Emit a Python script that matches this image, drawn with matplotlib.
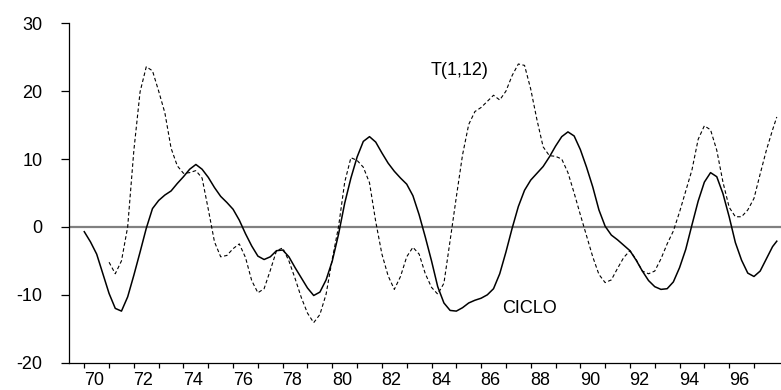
import numpy as np
import matplotlib
matplotlib.use("Agg")
import matplotlib.pyplot as plt

plt.rcParams['font.family'] = ['Liberation Sans', 'DejaVu Sans']
plt.rcParams['lines.scale_dashes'] = False

# quarterly observations 1970Q1 .. 1997Q4, plus the last (Dec-1997) point
years = list(np.arange(70.0, 98.0, 0.25)) + [97.92]

ciclo = [
    -0.7, -2.2, -4.0, -6.9,      # 70
    -9.8, -12.0, -12.4, -10.3,   # 71
    -7.1, -3.7, -0.2, 2.7,       # 72
    3.9, 4.7, 5.3, 6.4,          # 73
    7.4, 8.5, 9.2, 8.5,          # 74
    7.3, 5.8, 4.5, 3.6,          # 75
    2.6, 1.0, -1.0, -2.8,        # 76
    -4.3, -4.8, -4.4, -3.5,      # 77
    -3.4, -4.4, -6.0, -7.5,      # 78
    -9.0, -10.1, -9.6, -7.8,     # 79
    -5.0, -1.1, 3.5, 7.2,        # 80
    10.3, 12.6, 13.3, 12.5,      # 81
    10.9, 9.4, 8.2, 7.2,         # 82
    6.3, 4.6, 1.8, -1.5,         # 83
    -5.0, -8.8, -11.2, -12.3,    # 84
    -12.4, -11.9, -11.2, -10.8,  # 85
    -10.5, -10.0, -9.1, -6.9,    # 86
    -3.7, -0.2, 3.0, 5.4,        # 87
    6.9, 7.9, 8.9, 10.3,         # 88
    11.9, 13.3, 14.0, 13.4,      # 89
    11.4, 8.8, 5.9, 2.5,         # 90
    0.1, -1.2, -1.9, -2.7,       # 91
    -3.5, -4.9, -6.5, -7.9,      # 92
    -8.8, -9.2, -9.1, -8.1,      # 93
    -6.0, -3.3, 0.3, 3.8,        # 94
    6.6, 8.0, 7.4, 4.9,          # 95
    1.5, -2.3, -4.9, -6.8,       # 96
    -7.3, -6.5, -4.7, -2.9,      # 97
    -2.1,
]

t112 = [
    np.nan, np.nan, np.nan, np.nan,  # 70
    -5.2, -6.9, -5.0, 0.0,       # 71
    11.3, 19.9, 23.6, 23.0,      # 72
    20.0, 16.8, 11.6, 9.0,       # 73
    7.9, 8.0, 8.3, 7.2,          # 74
    2.6, -2.2, -4.4, -4.2,       # 75
    -3.2, -2.5, -4.5, -7.9,      # 76
    -9.7, -9.1, -6.4, -3.5,      # 77
    -3.1, -5.0, -7.6, -10.4,     # 78
    -12.7, -14.1, -12.9, -9.9,   # 79
    -4.7, 0.0, 6.6, 10.2,        # 80
    9.8, 8.8, 6.5, 0.8,          # 81
    -4.0, -7.2, -9.2, -7.3,      # 82
    -4.4, -3.0, -4.0, -6.9,      # 83
    -8.9, -9.9, -8.3, -2.0,      # 84
    4.4, 10.6, 15.1, 17.0,       # 85
    17.6, 18.5, 19.4, 18.7,      # 86
    20.0, 22.3, 24.0, 23.8,      # 87
    20.3, 15.8, 11.8, 10.5,      # 88
    10.4, 10.0, 8.0, 5.0,        # 89
    1.8, -1.3, -4.4, -7.0,       # 90
    -8.2, -7.8, -6.1, -4.5,      # 91
    -3.5, -4.8, -6.5, -6.9,      # 92
    -6.5, -4.7, -2.5, -0.6,      # 93
    2.2, 5.3, 8.4, 12.9,         # 94
    14.9, 14.3, 11.3, 6.6,       # 95
    2.9, 1.5, 1.5, 2.5,          # 96
    4.2, 7.8, 11.3, 14.3,        # 97
    16.2,
]

tick_years = list(range(70, 98))
label_years = list(range(70, 98, 2))
y_ticks = [-20, -10, 0, 10, 20, 30]

fig = plt.figure(figsize=(7.81, 3.90), dpi=100)
ax = fig.add_axes([0.0883, 0.070, 0.9117, 0.8703])

ax.axhline(0, color='#808080', lw=1.6, zorder=1)
ax.plot(years, ciclo, color='black', lw=1.1, zorder=3)
ax.plot(years, t112, color='black', lw=0.8, linestyle=(0, (2.6, 1.8)), zorder=2)

ax.set_xlim(69.383, 98.09)
ax.set_ylim(-20, 30)

for s in ['top', 'right']:
    ax.spines[s].set_visible(False)
for s in ['left', 'bottom']:
    ax.spines[s].set_linewidth(0.9)

ax.set_yticks(y_ticks)
ax.set_yticklabels([str(v) for v in y_ticks])
ax.tick_params(axis='y', length=6, width=0.9, pad=13, labelsize=13)

ax.set_xticks(tick_years)
ax.set_xticklabels([''] * len(tick_years))
ax.tick_params(axis='x', which='major', length=3.5, width=0.9)
ax.set_xticks([y + 0.39 for y in label_years], minor=True)
ax.set_xticklabels([str(y) for y in label_years], minor=True)
ax.tick_params(axis='x', which='minor', length=0, pad=6.5, labelsize=13)

ax.text(85.15, 23.0, 'T(1,12)', fontsize=13, ha='center', va='center')
ax.text(87.97, -12.0, 'CICLO', fontsize=13, ha='center', va='center')

fig.savefig('out.png', dpi=100)
